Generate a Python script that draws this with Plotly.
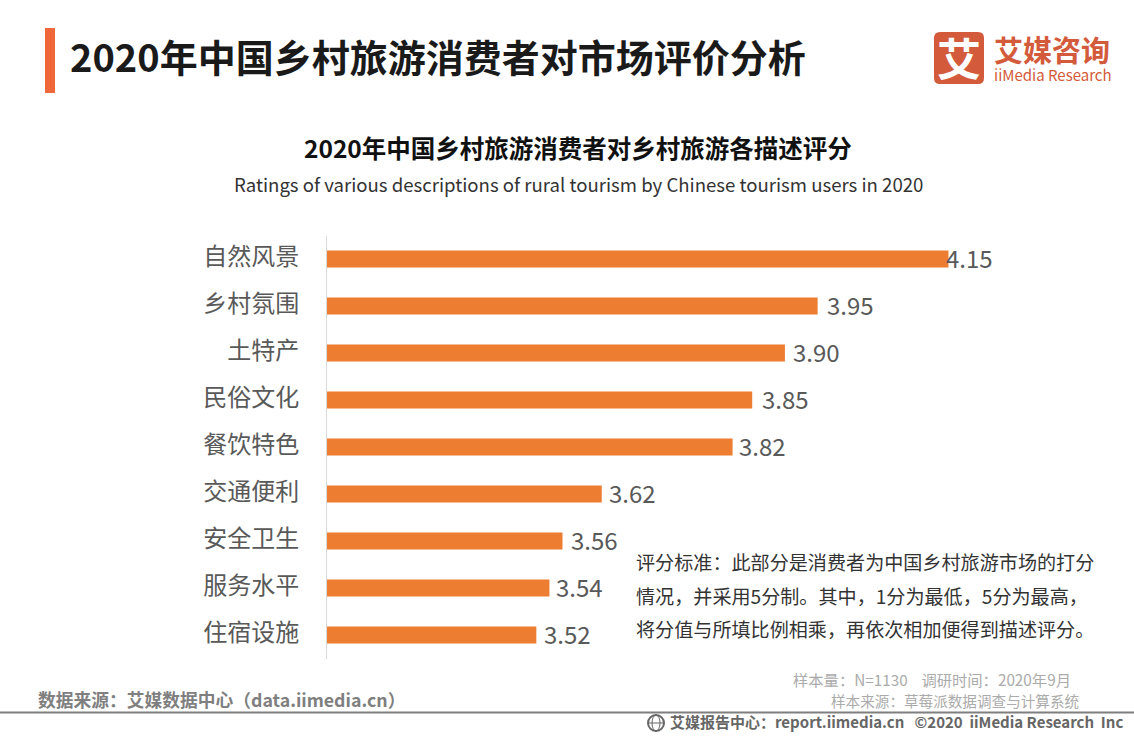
import plotly.graph_objects as go

categories = ["自然风景", "乡村氛围", "土特产", "民俗文化", "餐饮特色", "交通便利", "安全卫生", "服务水平", "住宿设施"]
scores = [4.15, 3.95, 3.90, 3.85, 3.82, 3.62, 3.56, 3.54, 3.52]
score_labels = ["4.15", "3.95", "3.90", "3.85", "3.82", "3.62", "3.56", "3.54", "3.52"]
label_shift = [-3, 8, 7, 9, 5, 6, 7, 6, 7]

W, H = 1134, 737
FONT = "Noto Sans CJK SC"
ORANGE = "#ED7D31"

def px(x): return x / W
def py(y): return 1 - y / H

fig = go.Figure(go.Bar(
    y=categories, x=scores, orientation="h",
    marker=dict(color=ORANGE, line=dict(width=0)),
    width=0.36, hoverinfo="skip",
))

def text(x, y, s, size, color, anchor="left", family=FONT):
    fig.add_annotation(xref="paper", yref="paper", x=px(x), y=py(y), text=s, showarrow=False,
                       xanchor=anchor, yanchor="middle", align=anchor,
                       font=dict(size=size, color=color, family=family),
                       borderpad=0, borderwidth=0)

# value labels
for c, v, l, dx in zip(categories, scores, score_labels, label_shift):
    fig.add_annotation(x=v, y=c, text=l, showarrow=False, xanchor="left", yanchor="middle",
                       xshift=dx, yshift=2, borderpad=0,
                       font=dict(size=24, color="#595959", family=FONT))

# header
fig.add_shape(type="rect", xref="paper", yref="paper", x0=px(45), x1=px(55), y0=py(28), y1=py(93),
              fillcolor="#F0683A", line_width=0)
text(70, 56, "<b>2020年中国乡村旅游消费者对市场评价分析</b>", 38, "#1a1a1a")

# logo
x0, x1, y0, y1, r = px(934), px(984), py(84), py(32), 6
rx, ry = r / W, r / H
fig.add_shape(type="path", xref="paper", yref="paper", line_width=0, fillcolor="#D35A3A",
              path=(f"M {x0+rx} {y0} L {x1-rx} {y0} Q {x1} {y0} {x1} {y0+ry} L {x1} {y1-ry} Q {x1} {y1} {x1-rx} {y1} "
                    f"L {x0+rx} {y1} Q {x0} {y1} {x0} {y1-ry} L {x0} {y0+ry} Q {x0} {y0} {x0+rx} {y0} Z"))
text(959, 57, "<b>艾</b>", 44, "#FFFFFF", "center")
text(994, 49, "<b>艾媒咨询</b>", 29, "#D35A3A")
text(994, 75, "iiMedia Research", 15, "#D35A3A")

# titles
text(578, 148, "<b>2020年中国乡村旅游消费者对乡村旅游各描述评分</b>", 24.5, "#111111", "center")
text(578, 184, "Ratings of various descriptions of rural tourism by Chinese tourism users in 2020", 18.6, "#333333", "center")

# note
note = ["评分标准：此部分是消费者为中国乡村旅游市场的打分",
        "情况，并采用5分制。其中，1分为最低，5分为最高，",
        "将分值与所填比例相乘，再依次相加便得到描述评分。"]
for yy, s in zip([562, 596, 629], note):
    text(636, yy, s, 19.1, "#333333")

# footer
text(38, 699, "<b>数据来源：艾媒数据中心（data.iimedia.cn）</b>", 17.75, "#7F7F7F")
text(793, 679, "样本量：N=1130    调研时间：2020年9月", 15.3, "#ABABAB")
text(831, 700, "样本来源：草莓派数据调查与计算系统", 14.6, "#ABABAB")
fig.add_shape(type="line", xref="paper", yref="paper", x0=0, x1=1, y0=py(712.5), y1=py(712.5),
              line=dict(color="#7F7F7F", width=2))
# globe icon
fig.add_shape(type="circle", xref="paper", yref="paper", x0=px(648), x1=px(664), y0=py(715), y1=py(731),
              line=dict(color="#666666", width=2))
fig.add_shape(type="circle", xref="paper", yref="paper", x0=px(652), x1=px(660), y0=py(715), y1=py(731),
              line=dict(color="#666666", width=1))
fig.add_shape(type="line", xref="paper", yref="paper", x0=px(648), x1=px(664), y0=py(723), y1=py(723),
              line=dict(color="#666666", width=1))
text(670, 721.5, "<b>艾媒报告中心：report.iimedia.cn   ©2020  iiMedia Research  Inc</b>", 15, "#666666")

fig.update_layout(
    width=W, height=H, margin=dict(l=0, r=0, t=0, b=0),
    paper_bgcolor="white", plot_bgcolor="white", showlegend=False,
    font=dict(family=FONT),
    xaxis=dict(domain=[px(327), px(1112)], range=[3.2, 4.4], visible=False),
    yaxis=dict(domain=[py(658.5), py(235.5)], autorange="reversed", type="category",
               showline=True, linecolor="#D9D9D9", linewidth=1, ticks="", ticklen=0,
               tickfont=dict(size=24, color="#595959", family=FONT), ticklabelstandoff=22,
               ticklabelshift=2, automargin=False, showgrid=False),
)

fig.write_html("out.html", post_script="document.body.style.margin='0';", config=dict(displayModeBar=False))
